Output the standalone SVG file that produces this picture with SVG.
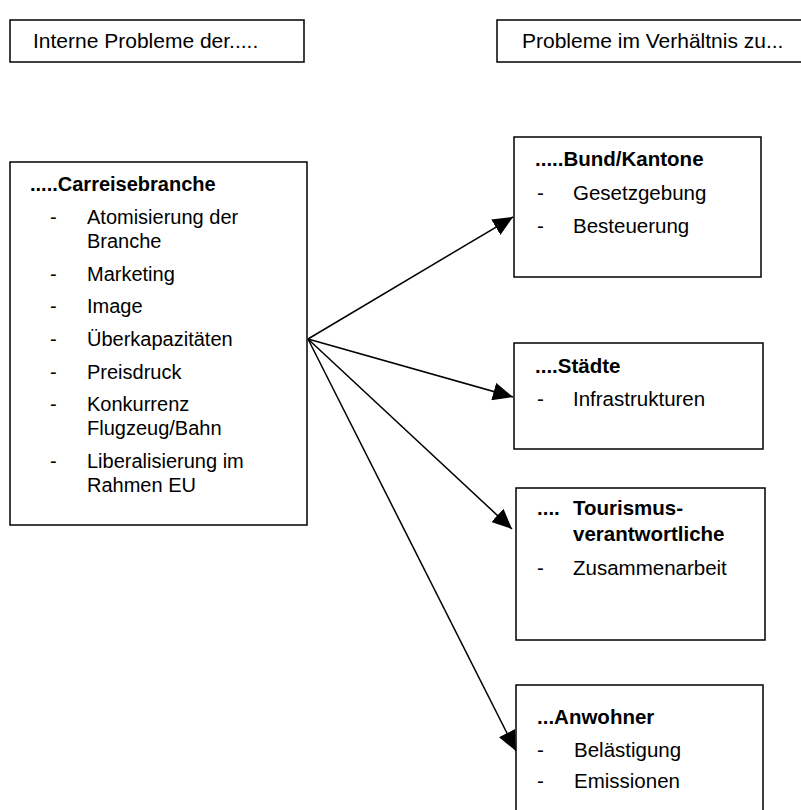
<svg xmlns="http://www.w3.org/2000/svg" width="801" height="810" viewBox="0 0 801 810">
<style>
.box{fill:#fff;stroke:#000;stroke-width:1.5}
text{font-family:"Liberation Sans",Arial,sans-serif;font-size:20px;fill:#000}
.r text{font-size:20.5px}
.h{font-size:21px}
.b{font-weight:bold}
.conn line{stroke:#000;stroke-width:1.5;fill:none}
</style>
<defs>
<marker id="ah" viewBox="0 0 20 18" refX="20" refY="9" markerWidth="20" markerHeight="18" markerUnits="userSpaceOnUse" orient="auto">
<path d="M0,0 L20,9 L0,18 z" fill="#000"/>
</marker>
</defs>
<rect width="801" height="810" fill="#fff"/>
<g id="hdr-left">
<rect class="box" x="10" y="20" width="294" height="42"/>
<text class="h" x="33" y="48">Interne Probleme der.....</text>
</g>
<g id="hdr-right">
<rect class="box" x="497" y="20" width="310" height="42"/>
<text class="h" x="522" y="48">Probleme im Verhältnis zu...</text>
</g>
<g id="carreise">
<rect class="box" x="10" y="162" width="297" height="363"/>
<text class="b" x="30" y="191">.....Carreisebranche</text>
<text x="50" y="224">-</text><text x="87" y="224">Atomisierung der</text>
<text x="87" y="248">Branche</text>
<text x="50" y="281">-</text><text x="87" y="281">Marketing</text>
<text x="50" y="313">-</text><text x="87" y="313">Image</text>
<text x="50" y="346">-</text><text x="87" y="346">Überkapazitäten</text>
<text x="50" y="379">-</text><text x="87" y="379">Preisdruck</text>
<text x="50" y="411">-</text><text x="87" y="411">Konkurrenz</text>
<text x="87" y="435">Flugzeug/Bahn</text>
<text x="50" y="468">-</text><text x="87" y="468">Liberalisierung im</text>
<text x="87" y="492">Rahmen EU</text>
</g>
<g id="bund" class="r">
<rect class="box" x="514" y="137" width="247" height="140"/>
<text class="b" x="535" y="166">.....Bund/Kantone</text>
<text x="537" y="200">-</text><text x="573" y="200">Gesetzgebung</text>
<text x="537" y="233">-</text><text x="573" y="233">Besteuerung</text>
</g>
<g id="staedte" class="r">
<rect class="box" x="514" y="343" width="249" height="106"/>
<text class="b" x="535" y="373">....Städte</text>
<text x="537" y="406">-</text><text x="573" y="406">Infrastrukturen</text>
</g>
<g id="tourismus" class="r">
<rect class="box" x="516" y="488" width="249" height="152"/>
<text class="b" x="537" y="515">....</text><text class="b" x="573" y="515">Tourismus-</text>
<text class="b" x="573" y="541">verantwortliche</text>
<text x="537" y="575">-</text><text x="573" y="575">Zusammenarbeit</text>
</g>
<g id="anwohner" class="r">
<rect class="box" x="516" y="685" width="247" height="140"/>
<text class="b" x="537" y="724">...Anwohner</text>
<text x="537" y="757">-</text><text x="574" y="757">Belästigung</text>
<text x="537" y="788">-</text><text x="574" y="788">Emissionen</text>
</g>
<g class="conn" id="connectors">
<line x1="308" y1="339" x2="513" y2="217" marker-end="url(#ah)"/>
<line x1="308" y1="339" x2="513" y2="397" marker-end="url(#ah)"/>
<line x1="308" y1="339" x2="512" y2="529" marker-end="url(#ah)"/>
<line x1="308" y1="339" x2="516" y2="751" marker-end="url(#ah)"/>
</g>
</svg>
